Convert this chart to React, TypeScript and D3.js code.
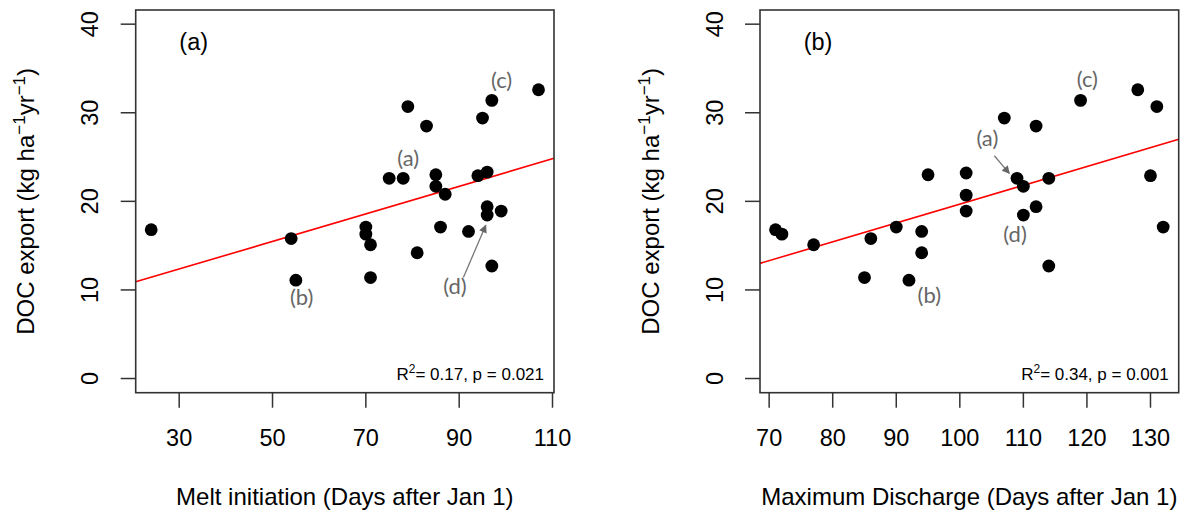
import React from "react";
import * as d3 from "d3";

// ---------- data ----------
const meltDays = [24, 54, 55, 70, 70, 71, 71, 75, 78, 79, 81, 83, 85, 85, 87, 86, 92, 94, 96, 95, 97, 107, 96, 96, 99, 97];
const meltDOC = [16.8, 15.8, 11.1, 17.1, 16.3, 15.1, 11.4, 22.6, 22.6, 30.7, 14.2, 28.5, 23.0, 21.7, 20.8, 17.1, 16.6, 22.9, 23.3, 29.4, 31.4, 32.6, 19.4, 18.45, 18.9, 12.7];

const dischargeDays = [71, 72, 77, 85, 86, 90, 92, 94, 94, 95, 101, 101, 101, 107, 109, 110, 110, 112, 112, 114, 114, 119, 128, 131, 130, 132];
const dischargeDOC = [16.8, 16.3, 15.1, 11.4, 15.8, 17.1, 11.1, 16.6, 14.2, 23.0, 23.2, 20.7, 18.9, 29.4, 22.6, 21.7, 18.45, 28.5, 19.4, 22.6, 12.7, 31.4, 32.6, 30.7, 22.9, 17.1];

// fitted line: [intercept, slope]
const meltFit = [7.70, 0.1555];
const dischargeFit = [-1.57, 0.2125];

const meltTicks = [30, 50, 70, 90, 110];
const dischargeTicks = [70, 80, 90, 100, 110, 120, 130];
const yTicks = [0, 10, 20, 30, 40];
const yLimits = [0, 40];

// site annotations: [label, x, y]
const meltNotes: [string, number, number][] = [
  ["(a)", 79.1, 24.8],
  ["(b)", 56.25, 9.15],
  ["(c)", 99.1, 33.6],
  ["(d)", 89.1, 10.35],
];
const meltArrow = [90.9, 11.4, 95.7, 17.3];

const dischargeNotes: [string, number, number][] = [
  ["(a)", 104.33, 27.1],
  ["(b)", 95.2, 9.4],
  ["(c)", 120.06, 33.7],
  ["(d)", 108.69, 16.2],
];
const dischargeArrow = [105.43, 25.15, 107.79, 23.16];

const meltStats = ["0.17", "0.021"];
const dischargeStats = ["0.34", "0.001"];

// ---------- layout ----------
const W = 1194;
const H = 514;
const TOP = 10;
const BOTTOM = 392.7;
const FONT = "'Liberation Sans', Arial, Helvetica, sans-serif";
const NOTE_FONT = "Lato, 'Open Sans', sans-serif";

function rRange(ext: [number, number]): [number, number] {
  const pad = (ext[1] - ext[0]) * 0.04;
  return [ext[0] - pad, ext[1] + pad];
}

type PanelProps = {
  id: string;
  left: number;
  right: number;
  days: number[];
  doc: number[];
  fit: number[];
  ticks: number[];
  notes: [string, number, number][];
  arrow: number[];
  stats: string[];
  tag: string;
  xTitle: string;
};

function Panel(p: PanelProps) {
  const ext = d3.extent(p.days) as [number, number];
  const xDom = rRange(ext);
  const x = d3.scaleLinear().domain(xDom).range([p.left, p.right]);
  const y = d3.scaleLinear().domain(rRange(yLimits as [number, number])).range([BOTTOM, TOP]);
  const line = d3
    .line<number>()
    .x((d) => x(d))
    .y((d) => y(p.fit[0] + p.fit[1] * d));
  const cx = (p.left + p.right) / 2;
  const tickLen = 15;
  const stroke = "#333";
  return (
    <g>
      <defs>
        <marker
          id={`arrow-${p.id}`}
          viewBox="0 0 10 10"
          refX="9"
          refY="5"
          markerUnits="userSpaceOnUse"
          markerWidth="9"
          markerHeight="8"
          orient="auto"
        >
          <path d="M0,0 L10,5 L0,10 z" fill="#666" />
        </marker>
      </defs>
      {/* regression line */}
      <path d={line(xDom) || ""} stroke="#ff0000" strokeWidth={1.6} fill="none" />
      {/* points */}
      {p.days.map((d, i) => (
        <circle key={i} cx={x(d)} cy={y(p.doc[i])} r={6.4} fill="#000" />
      ))}
      {/* box */}
      <rect
        x={p.left}
        y={TOP}
        width={p.right - p.left}
        height={BOTTOM - TOP}
        fill="none"
        stroke={stroke}
        strokeWidth={1.6}
      />
      {/* y ticks */}
      {yTicks.map((t) => (
        <g key={t}>
          <line x1={p.left - tickLen} x2={p.left} y1={y(t)} y2={y(t)} stroke={stroke} strokeWidth={1.5} />
          <text
            transform={`translate(${p.left - 37.5},${y(t)}) rotate(-90)`}
            textAnchor="middle"
            fontSize={23.5}
            fontFamily={FONT}
            fill="#000"
          >
            {t}
          </text>
        </g>
      ))}
      {/* x ticks */}
      {p.ticks.map((t) => (
        <g key={t}>
          <line x1={x(t)} x2={x(t)} y1={BOTTOM} y2={BOTTOM + tickLen} stroke={stroke} strokeWidth={1.5} />
          <text x={x(t)} y={446} textAnchor="middle" fontSize={23.5} fontFamily={FONT} fill="#000">
            {t}
          </text>
        </g>
      ))}
      {/* y title */}
      <text
        transform={`translate(${p.left - 101.5},${(TOP + BOTTOM) / 2}) rotate(-90)`}
        textAnchor="middle"
        fontSize={24}
        fontFamily={FONT}
        fill="#000"
      >
        DOC export (kg ha
        <tspan fontSize={17} dy={-9}>
          −1
        </tspan>
        <tspan dy={9}>yr</tspan>
        <tspan fontSize={17} dy={-9}>
          −1
        </tspan>
        <tspan dy={9}>)</tspan>
      </text>
      {/* x title */}
      <text x={cx} y={505} textAnchor="middle" fontSize={24} fontFamily={FONT} fill="#000">
        {p.xTitle}
      </text>
      {/* panel tag */}
      <text x={p.left + 58} y={50} textAnchor="middle" fontSize={23.5} fontFamily={FONT} fill="#000">
        {p.tag}
      </text>
      {/* stats */}
      <text x={p.right - 10} y={380} textAnchor="end" fontSize={17} fontFamily={FONT} fill="#000">
        R
        <tspan fontSize={12} dy={-7}>
          2
        </tspan>
        <tspan dy={7}>{`= ${p.stats[0]}, p = ${p.stats[1]}`}</tspan>
      </text>
      {/* annotations */}
      {p.notes.map(([lab, nx, ny]) => (
        <text
          key={lab}
          x={x(nx)}
          y={y(ny)}
          dy="0.33em"
          textAnchor="middle"
          fontSize={22}
          fontFamily={NOTE_FONT}
          fill="#666"
        >
          {lab}
        </text>
      ))}
      <line
        x1={x(p.arrow[0])}
        y1={y(p.arrow[1])}
        x2={x(p.arrow[2])}
        y2={y(p.arrow[3])}
        stroke="#777"
        strokeWidth={1.3}
        markerEnd={`url(#arrow-${p.id})`}
      />
    </g>
  );
}

export default function App() {
  return (
    <div style={{ position: "absolute", left: 0, top: 0 }}>
      <svg width={W} height={H} style={{ display: "block", background: "#fff" }}>
        <rect width={W} height={H} fill="#fff" />
        <Panel
          id="a"
          left={135.7}
          right={554}
          days={meltDays}
          doc={meltDOC}
          fit={meltFit}
          ticks={meltTicks}
          notes={meltNotes}
          arrow={meltArrow}
          stats={meltStats}
          tag="(a)"
          xTitle="Melt initiation (Days after Jan 1)"
        />
        <Panel
          id="b"
          left={760}
          right={1178.7}
          days={dischargeDays}
          doc={dischargeDOC}
          fit={dischargeFit}
          ticks={dischargeTicks}
          notes={dischargeNotes}
          arrow={dischargeArrow}
          stats={dischargeStats}
          tag="(b)"
          xTitle="Maximum Discharge (Days after Jan 1)"
        />
      </svg>
    </div>
  );
}
